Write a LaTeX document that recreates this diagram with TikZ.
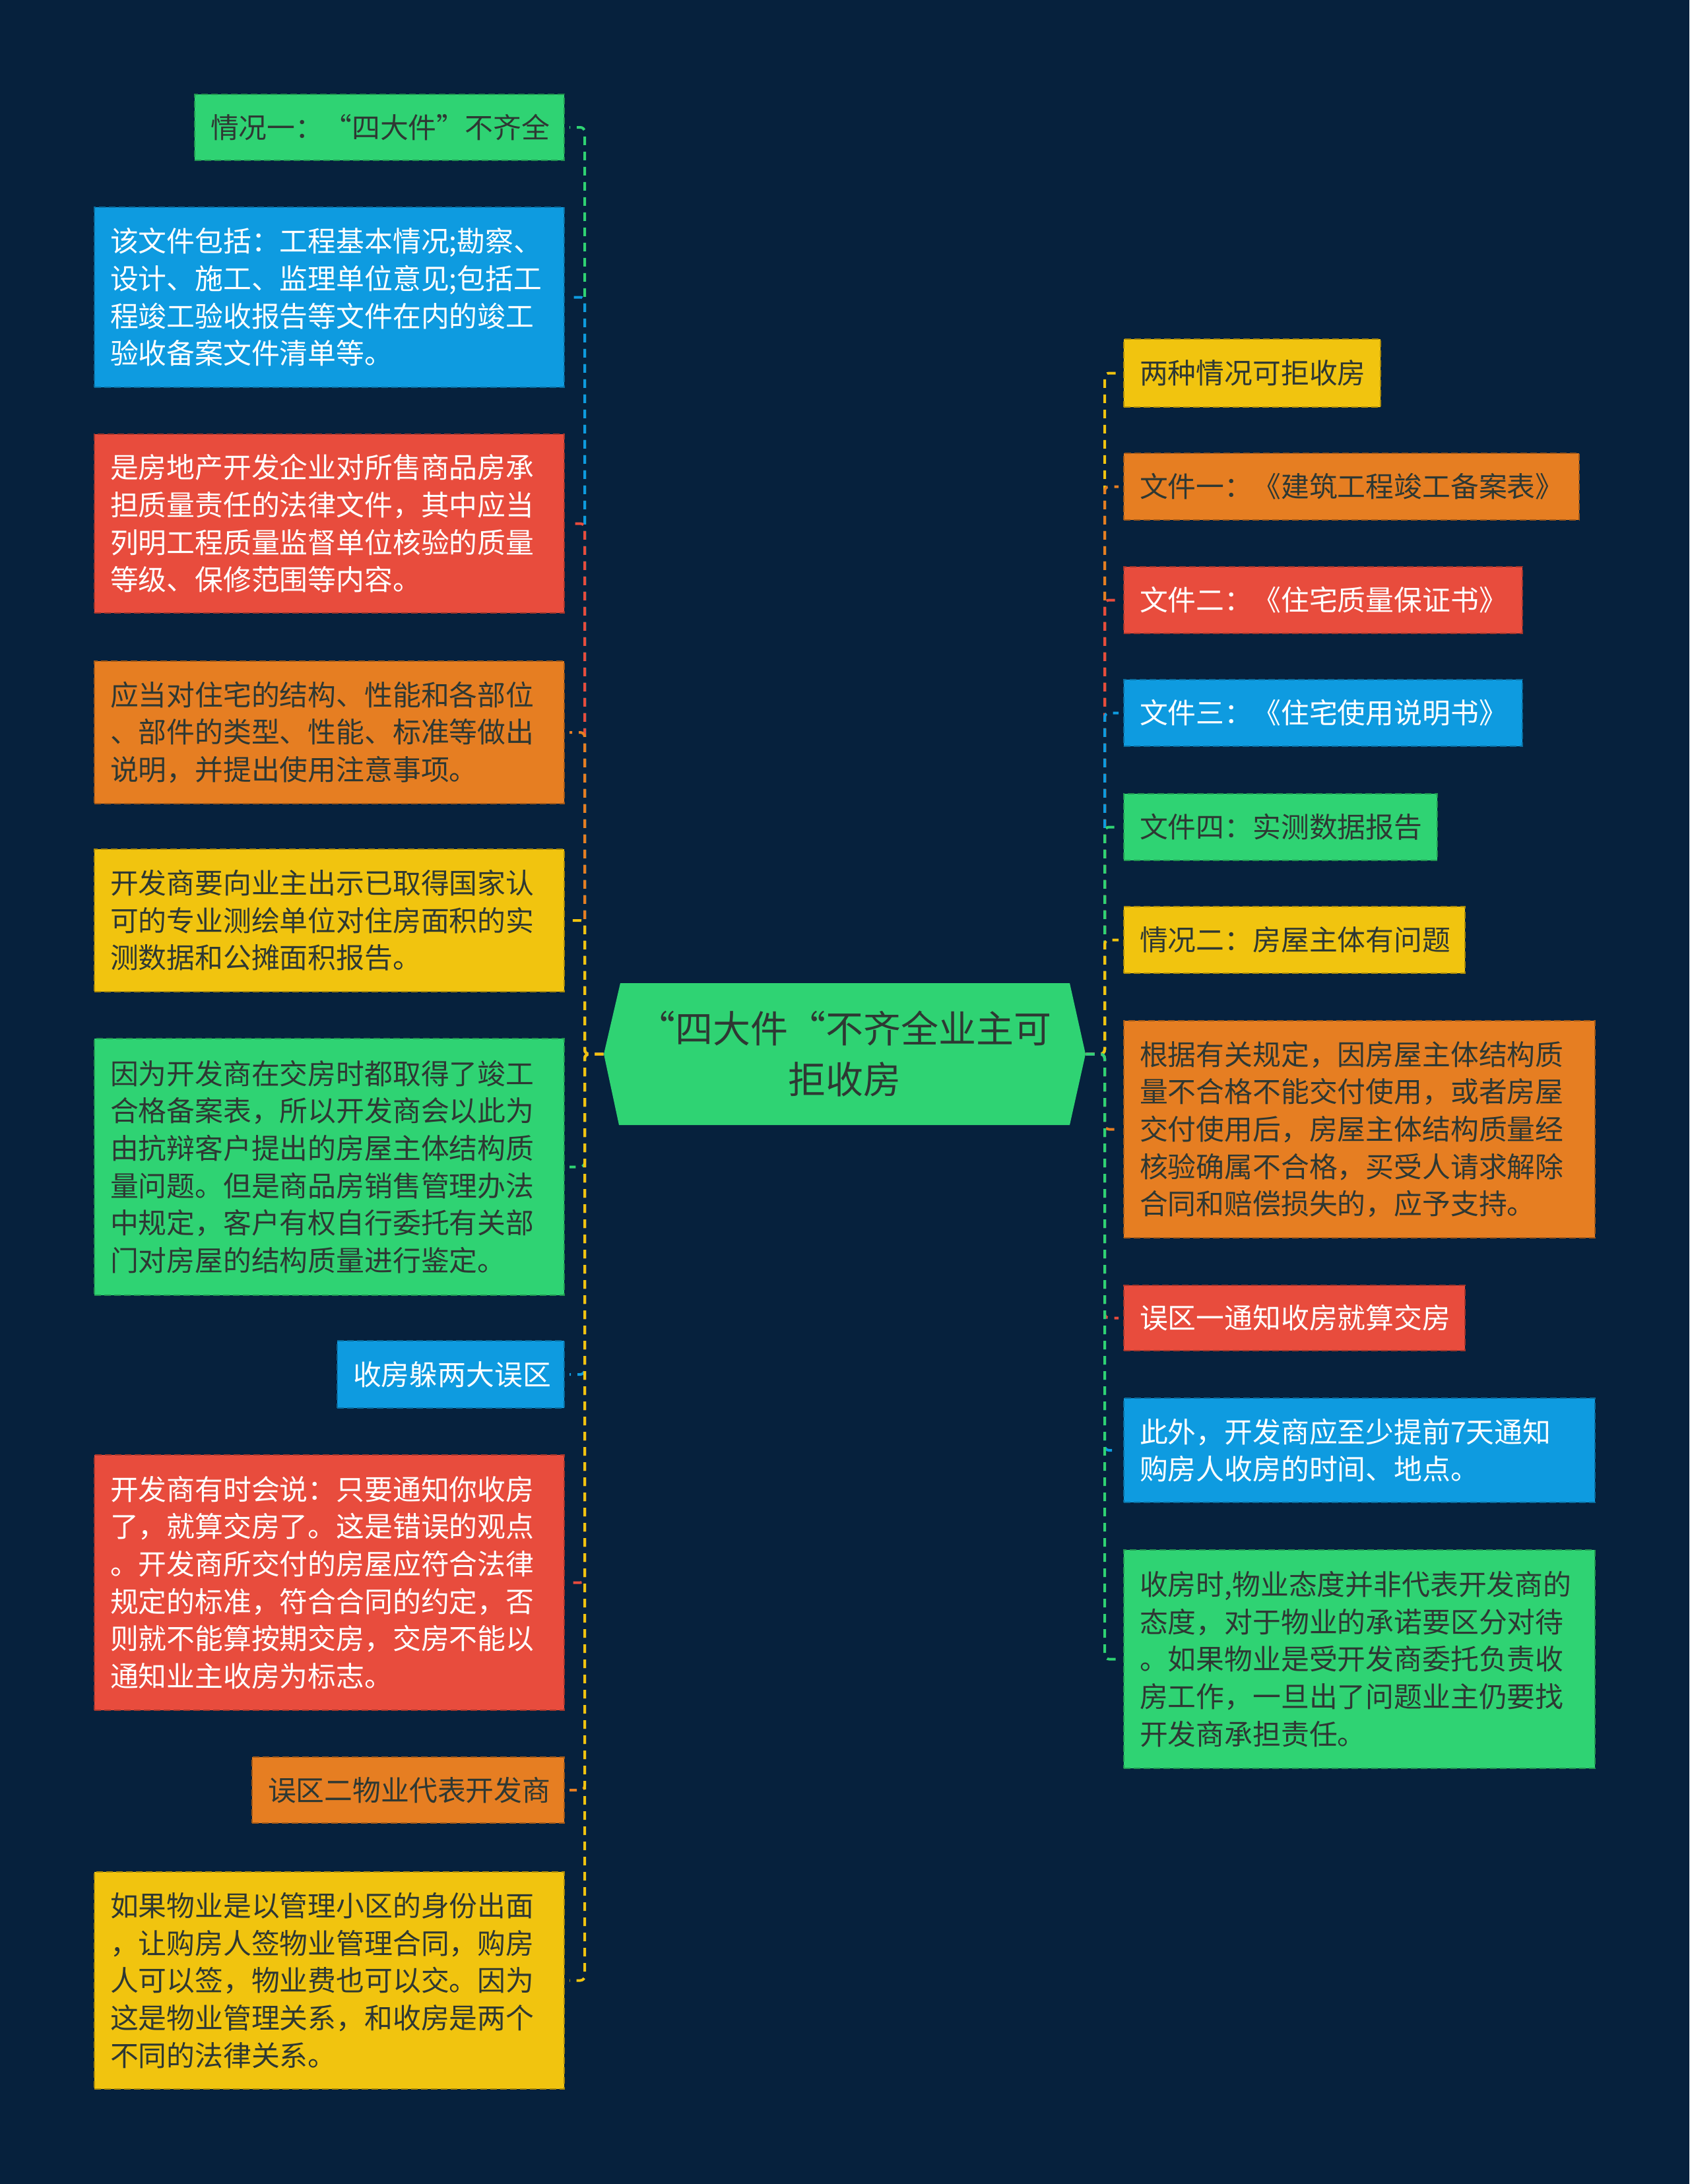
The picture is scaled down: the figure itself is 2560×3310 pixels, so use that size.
\documentclass[tikz,border=0pt]{standalone}
\usepackage{fontspec}
\setmainfont{Noto Sans CJK SC}
\definecolor{bg}{HTML}{06213D}
\definecolor{cgreen}{HTML}{2FD373}
\definecolor{cblue}{HTML}{0E9BE0}
\definecolor{cred}{HTML}{E84C3D}
\definecolor{corange}{HTML}{E67E22}
\definecolor{cyellow}{HTML}{F1C40F}
\definecolor{dtext}{HTML}{2E3833}
\tikzset{
  box/.style={rectangle, fill=#1, draw=#1!70!black, dash pattern=on 3pt off 1.5pt,
    line width=0.8pt, inner xsep=7.2pt, inner ysep=0pt, align=left,
    font=\fontsize{12.85pt}{17pt}\selectfont},
  dk/.style={text=dtext},
  wt/.style={text=white},
  link/.style={draw=#1, line width=1.2pt, dash pattern=on 3.9pt off 3pt,
    rounded corners=2pt, shorten >=2pt},
}
\newcommand\mybox[8]{%
  \pgfmathsetmacro\bw{(#4-#2)*0.3}%
  \pgfmathsetmacro\bh{(#5-#3)*0.3}%
  \pgfmathsetmacro\tw{(#4-#2-48)*0.3}%
  \node[box=#6, #7, minimum width=\bw pt, minimum height=\bh pt, text width=\tw pt]
    (#1) at ({(#2+#4)/2},{(#3+#5)/2}) {#8};%
}
\begin{document}
\begin{tikzpicture}[x=0.3pt,y=-0.3pt]
\fill[bg] (0,0) rectangle (2560,3310);
\useasboundingbox (0,0) rectangle (2560,3310);
% root
\fill[cgreen] (915,1597.5) -- (940,1490) -- (1621,1490) -- (1645,1597.5) -- (1621,1705) -- (938,1705) -- cycle;
\node[minimum width=219pt, minimum height=64.5pt, inner sep=0pt, align=center,
  font=\fontsize{17.1pt}{23.1pt}\selectfont, text=dtext] (root) at (1280,1597.5)
  {“四大件“不齐全业主可\\拒收房};
\coordinate (lj) at (886,1597.5);
\coordinate (rj) at (1674,1597.5);
% left boxes
\mybox{l1}{295}{143}{855}{243}{cgreen}{dk}{情况一：“四大件”不齐全}
\mybox{l2}{143}{314}{855}{587}{cblue}{wt}{该文件包括：工程基本情况;勘察、\\设计、施工、监理单位意见;包括工\\程竣工验收报告等文件在内的竣工\\验收备案文件清单等。}
\mybox{l3}{143}{658}{855}{929}{cred}{wt}{是房地产开发企业对所售商品房承\\担质量责任的法律文件，其中应当\\列明工程质量监督单位核验的质量\\等级、保修范围等内容。}
\mybox{l4}{143}{1002}{855}{1218}{corange}{dk}{应当对住宅的结构、性能和各部位\\、部件的类型、性能、标准等做出\\说明，并提出使用注意事项。}
\mybox{l5}{143}{1287}{855}{1503}{cyellow}{dk}{开发商要向业主出示已取得国家认\\可的专业测绘单位对住房面积的实\\测数据和公摊面积报告。}
\mybox{l6}{143}{1574}{855}{1963}{cgreen}{dk}{因为开发商在交房时都取得了竣工\\合格备案表，所以开发商会以此为\\由抗辩客户提出的房屋主体结构质\\量问题。但是商品房销售管理办法\\中规定，客户有权自行委托有关部\\门对房屋的结构质量进行鉴定。}
\mybox{l7}{511}{2032}{855}{2134}{cblue}{wt}{收房躲两大误区}
\mybox{l8}{143}{2205}{855}{2592}{cred}{wt}{开发商有时会说：只要通知你收房\\了，就算交房了。这是错误的观点\\。开发商所交付的房屋应符合法律\\规定的标准，符合合同的约定，否\\则就不能算按期交房，交房不能以\\通知业主收房为标志。}
\mybox{l9}{382}{2663}{855}{2763}{corange}{dk}{误区二物业代表开发商}
\mybox{l10}{143}{2837}{855}{3166}{cyellow}{dk}{如果物业是以管理小区的身份出面\\，让购房人签物业管理合同，购房\\人可以签，物业费也可以交。因为\\这是物业管理关系，和收房是两个\\不同的法律关系。}
% right boxes
\mybox{r1}{1703}{514}{2092}{617}{cyellow}{dk}{两种情况可拒收房}
\mybox{r2}{1703}{687}{2393}{788}{corange}{dk}{文件一：《建筑工程竣工备案表》}
\mybox{r3}{1703}{859}{2307}{960}{cred}{wt}{文件二：《住宅质量保证书》}
\mybox{r4}{1703}{1030}{2307}{1131}{cblue}{wt}{文件三：《住宅使用说明书》}
\mybox{r5}{1703}{1203}{2178}{1304}{cgreen}{dk}{文件四：实测数据报告}
\mybox{r6}{1703}{1374}{2220}{1475}{cyellow}{dk}{情况二：房屋主体有问题}
\mybox{r7}{1703}{1547}{2417}{1876}{corange}{dk}{根据有关规定，因房屋主体结构质\\量不合格不能交付使用，或者房屋\\交付使用后，房屋主体结构质量经\\核验确属不合格，买受人请求解除\\合同和赔偿损失的，应予支持。}
\mybox{r8}{1703}{1948}{2220}{2047}{cred}{wt}{误区一通知收房就算交房}
\mybox{r9}{1703}{2119}{2417}{2277}{cblue}{wt}{此外，开发商应至少提前7天通知\\购房人收房的时间、地点。}
\mybox{r10}{1703}{2349}{2417}{2680}{cgreen}{dk}{收房时,物业态度并非代表开发商的\\态度，对于物业的承诺要区分对待\\。如果物业是受开发商委托负责收\\房工作，一旦出了问题业主仍要找\\开发商承担责任。}
% connectors
\foreach \n/\c in {l1/cgreen,l2/cblue,l3/cred,l4/corange,l5/cyellow,l6/cgreen,l7/cblue,l8/cred,l9/corange,l10/cyellow}
  \draw[link=\c] (root.west) -- (lj) |- (\n.east);
\foreach \n/\c in {r1/cyellow,r2/corange,r3/cred,r4/cblue,r5/cgreen,r6/cyellow,r7/corange,r8/cred,r9/cblue,r10/cgreen}
  \draw[link=\c] (root.east) -- (rj) |- (\n.west);
\end{tikzpicture}
\end{document}
